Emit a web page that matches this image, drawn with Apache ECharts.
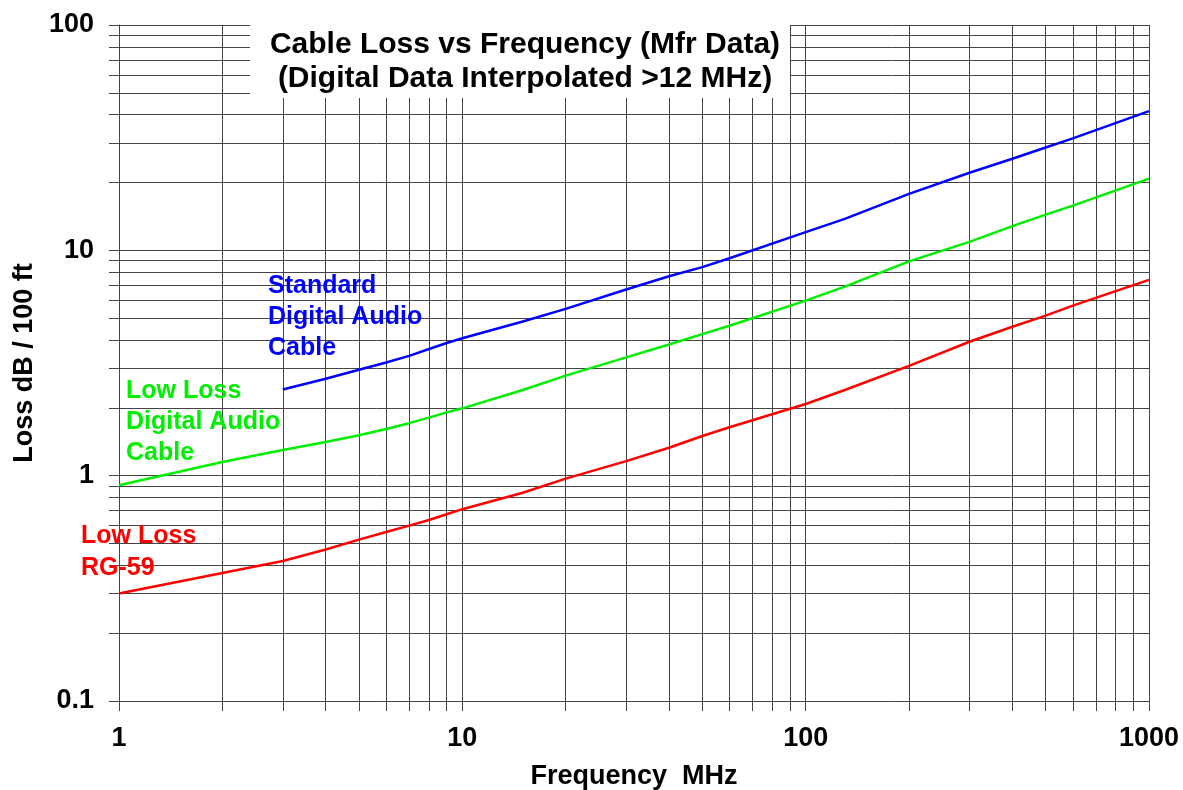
<!DOCTYPE html>
<html>
<head>
<meta charset="utf-8">
<script src="https://cdn.jsdelivr.net/npm/echarts@6/dist/echarts.min.js"></script>
<style>
html,body{margin:0;padding:0;background:#fff;}
#chart{width:1183px;height:790px;}
</style>
</head>
<body>
<div id="chart"></div>
<script>
// ---- Data ----
const freqLow = [1, 2, 3, 4, 5, 6, 7, 8, 9, 10, 15, 20, 30, 40, 50, 60, 100, 130, 200, 300, 400, 500, 600, 1000];
const lossRG59 = [0.30, 0.37, 0.418, 0.47, 0.52, 0.562, 0.60, 0.636, 0.674, 0.71, 0.84, 0.97, 1.16, 1.33, 1.50, 1.64, 2.08, 2.40, 3.07, 3.93, 4.58, 5.13, 5.68, 7.39];
const lossLowLossDigital = [0.907, 1.15, 1.30, 1.41, 1.51, 1.61, 1.71, 1.81, 1.91, 1.99, 2.40, 2.78, 3.35, 3.82, 4.25, 4.63, 5.98, 6.9, 8.93, 10.9, 12.8, 14.4, 15.8, 20.8];
const freqStd = [3, 4, 5, 6, 7, 8, 9, 10, 15, 20, 30, 40, 50, 60, 100, 130, 200, 300, 400, 500, 600, 1000];
const lossStdDigital = [2.41, 2.69, 2.95, 3.18, 3.40, 3.65, 3.88, 4.07, 4.83, 5.50, 6.7, 7.67, 8.42, 9.22, 12.05, 13.8, 17.8, 22.1, 25.5, 28.6, 31.4, 41.5];

// ---- Tick values ----
const xTickValues = [1,2,3,4,5,6,7,8,9,10,20,30,40,50,60,70,80,90,100,200,300,400,500,600,700,800,900,1000];
const xLabelValues = [1, 10, 100, 1000];
const yTickValues = [0.1,0.2,0.3,0.4,0.5,0.6,0.7,0.8,0.9,1,2,3,4,5,6,7,8,9,10,20,30,40,50,60,70,80,90,100];
const yLabelValues = [0.1, 1, 10, 100];

const titleLines = ['Cable Loss vs Frequency (Mfr Data)', '(Digital Data Interpolated >12 MHz)'];
const xName = 'Frequency  MHz';
const yName = 'Loss dB / 100 ft';

const pairs = (xs, ys) => xs.map((x, i) => [x, ys[i]]);

const FONT = '"Liberation Sans", Arial, sans-serif';
const GRID = '#444';

const chart = echarts.init(document.getElementById('chart'), null, {renderer: 'canvas'});

const axisCommon = {
  axisLine: {show: true, lineStyle: {color: GRID, width: 1}},
  splitLine: {show: true, lineStyle: {color: GRID, width: 1}},
  minorTick: {show: false},
  minorSplitLine: {show: false},
  nameTextStyle: {fontFamily: FONT, fontWeight: 'bold', fontSize: 27, color: '#000'}
};

chart.setOption({
  animation: false,
  backgroundColor: '#fff',
  grid: {left: 119, right: 34, top: 25, bottom: 89, containLabel: false, outerBoundsMode: 'none'},
  xAxis: Object.assign({}, axisCommon, {
    type: 'log', logBase: 10, min: 1, max: 1000,
    name: xName, nameLocation: 'middle', nameGap: 62,
    axisTick: {show: true, inside: false, length: 10, customValues: xTickValues, lineStyle: {color: GRID}},
    axisLabel: {customValues: xLabelValues, margin: 24, fontFamily: FONT, fontWeight: 'bold', fontSize: 27, color: '#000',
      formatter: v => String(v)}
  }),
  yAxis: Object.assign({}, axisCommon, {
    type: 'log', logBase: 10, min: 0.1, max: 100,
    name: yName, nameLocation: 'middle', nameGap: 73, nameRotate: 90,
    axisTick: {show: true, inside: false, length: 10, customValues: yTickValues, lineStyle: {color: GRID}},
    axisLabel: {customValues: yLabelValues, margin: 25, fontFamily: FONT, fontWeight: 'bold', fontSize: 27, color: '#000',
      formatter: v => String(v)}
  }),
  series: [
    {name: 'Standard Digital Audio Cable', type: 'line', data: pairs(freqStd, lossStdDigital),
     showSymbol: false, lineStyle: {color: '#0000ff', width: 2.5}, itemStyle: {color: '#0000ff'}, z: 3},
    {name: 'Low Loss Digital Audio Cable', type: 'line', data: pairs(freqLow, lossLowLossDigital),
     showSymbol: false, lineStyle: {color: '#00ee00', width: 2.5}, itemStyle: {color: '#00ee00'}, z: 3},
    {name: 'Low Loss RG-59', type: 'line', data: pairs(freqLow, lossRG59),
     showSymbol: false, lineStyle: {color: '#ff0000', width: 2.5}, itemStyle: {color: '#ff0000'}, z: 3}
  ],
  graphic: [
    {type: 'rect', z: 100, left: 250, top: 0, shape: {width: 540, height: 98}, style: {fill: '#fff'}},
    {type: 'text', z: 101, x: 525, y: 28,
     style: {text: titleLines.join('\n'), font: 'bold 30px ' + FONT, fill: '#000', lineHeight: 34, align: 'center', verticalAlign: 'top'}},
    {type: 'text', z: 101, left: 268, top: 271,
     style: {text: 'Standard\nDigital Audio\nCable', font: 'bold 25px ' + FONT, fill: '#0000ff', lineHeight: 31}},
    {type: 'text', z: 101, left: 126, top: 376,
     style: {text: 'Low Loss\nDigital Audio\nCable', font: 'bold 25px ' + FONT, fill: '#00ee00', lineHeight: 31}},
    {type: 'text', z: 101, left: 81, top: 520,
     style: {text: 'Low Loss\nRG-59', font: 'bold 25px ' + FONT, fill: '#ff0000', lineHeight: 32}}
  ]
});
</script>
</body>
</html>
